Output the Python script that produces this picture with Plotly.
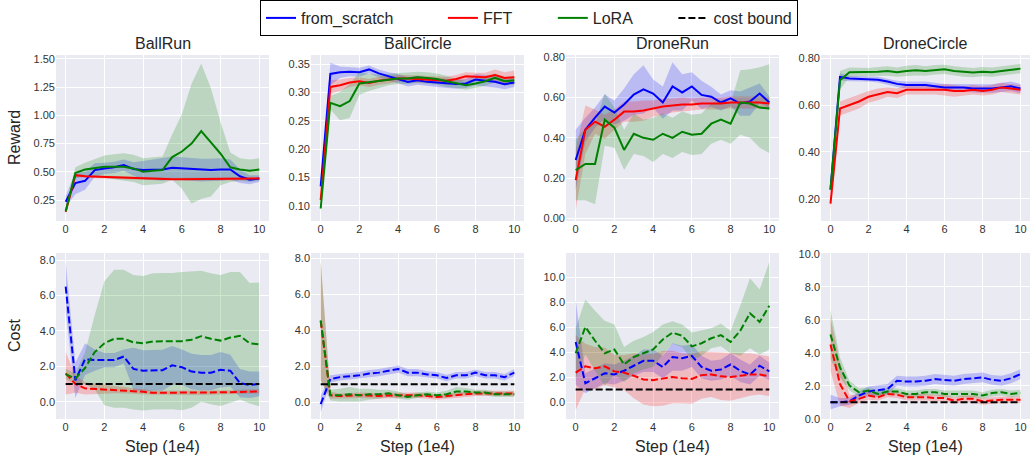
import plotly.graph_objects as go
from plotly.subplots import make_subplots

steps = [0, 0.5, 1, 1.5, 2, 2.5, 3, 3.5, 4, 4.5, 5, 5.5, 6, 6.5, 7, 7.5, 8, 8.5, 9, 9.5, 10]
tasks = ["BallRun", "BallCircle", "DroneRun", "DroneCircle"]
methods = ["from_scratch", "FFT", "LoRA"]
x_ticks = [0, 2, 4, 6, 8, 10]
cost_bound = 1.0
bound_x = [0, 10]

# ---- Reward (top row) ----
br_fs = [0.235, 0.40, 0.42, 0.515, 0.53, 0.54, 0.56, 0.525, 0.515, 0.52, 0.52, 0.535, 0.53, 0.52, 0.515, 0.515, 0.52, 0.52, 0.46, 0.43, 0.44]
br_fs_sd = [0.05, 0.1, 0.08, 0.06, 0.05, 0.05, 0.05, 0.06, 0.08, 0.09, 0.1, 0.1, 0.1, 0.1, 0.1, 0.1, 0.1, 0.09, 0.06, 0.04, 0.03]
br_fft = [0.146, 0.47, 0.46, 0.457, 0.45, 0.447, 0.445, 0.442, 0.44, 0.438, 0.436, 0.435, 0.435, 0.435, 0.435, 0.435, 0.435, 0.435, 0.435, 0.437, 0.44]
br_fft_sd = [0.015, 0.015, 0.012, 0.012, 0.012, 0.012, 0.012, 0.012, 0.012, 0.012, 0.012, 0.012, 0.012, 0.012, 0.012, 0.012, 0.012, 0.012, 0.012, 0.012, 0.012]
br_lora = [0.15, 0.49, 0.52, 0.535, 0.545, 0.545, 0.545, 0.53, 0.50, 0.51, 0.515, 0.63, 0.68, 0.75, 0.86, 0.76, 0.66, 0.54, 0.52, 0.51, 0.52]
br_lora_sd = [0.03, 0.05, 0.06, 0.08, 0.1, 0.11, 0.12, 0.12, 0.12, 0.12, 0.12, 0.2, 0.33, 0.53, 0.6, 0.48, 0.28, 0.13, 0.1, 0.1, 0.1]

bc_fs = [0.134, 0.333, 0.336, 0.337, 0.336, 0.341, 0.334, 0.329, 0.325, 0.319, 0.322, 0.319, 0.318, 0.316, 0.315, 0.316, 0.323, 0.321, 0.319, 0.315, 0.318]
bc_fs_sd = [0.005, 0.02, 0.01, 0.008, 0.008, 0.007, 0.007, 0.007, 0.008, 0.008, 0.008, 0.008, 0.008, 0.008, 0.008, 0.008, 0.01, 0.01, 0.01, 0.009, 0.008]
bc_fft = [0.11, 0.31, 0.313, 0.318, 0.32, 0.317, 0.321, 0.323, 0.325, 0.325, 0.324, 0.324, 0.322, 0.321, 0.324, 0.329, 0.328, 0.327, 0.331, 0.326, 0.327]
bc_fft_sd = [0.005, 0.012, 0.01, 0.008, 0.007, 0.007, 0.007, 0.007, 0.006, 0.006, 0.006, 0.006, 0.006, 0.007, 0.007, 0.007, 0.007, 0.008, 0.01, 0.01, 0.012]
bc_lora = [0.095, 0.282, 0.276, 0.285, 0.316, 0.318, 0.32, 0.323, 0.325, 0.325, 0.327, 0.326, 0.324, 0.32, 0.316, 0.313, 0.316, 0.32, 0.326, 0.32, 0.322]
bc_lora_sd = [0.005, 0.012, 0.025, 0.03, 0.02, 0.015, 0.012, 0.01, 0.01, 0.01, 0.01, 0.01, 0.01, 0.01, 0.008, 0.008, 0.008, 0.008, 0.008, 0.008, 0.008]

dr_fs = [0.29, 0.44, 0.50, 0.555, 0.525, 0.565, 0.615, 0.64, 0.62, 0.575, 0.655, 0.625, 0.655, 0.613, 0.604, 0.575, 0.596, 0.57, 0.58, 0.62, 0.575]
dr_fs_sd = [0.15, 0.06, 0.05, 0.06, 0.06, 0.08, 0.1, 0.12, 0.07, 0.08, 0.12, 0.09, 0.07, 0.07, 0.05, 0.04, 0.04, 0.06, 0.07, 0.05, 0.03]
dr_fft = [0.19, 0.44, 0.48, 0.455, 0.49, 0.53, 0.53, 0.535, 0.545, 0.555, 0.56, 0.565, 0.565, 0.57, 0.57, 0.57, 0.575, 0.575, 0.575, 0.575, 0.57]
dr_fft_sd = [0.15, 0.12, 0.06, 0.06, 0.05, 0.05, 0.05, 0.05, 0.04, 0.04, 0.035, 0.035, 0.03, 0.03, 0.03, 0.03, 0.03, 0.03, 0.03, 0.03, 0.03]
dr_lora = [0.24, 0.27, 0.27, 0.49, 0.45, 0.34, 0.42, 0.40, 0.39, 0.42, 0.40, 0.43, 0.415, 0.42, 0.47, 0.49, 0.47, 0.575, 0.57, 0.55, 0.545]
dr_lora_sd = [0.15, 0.18, 0.2, 0.13, 0.1, 0.1, 0.1, 0.09, 0.11, 0.1, 0.1, 0.1, 0.1, 0.1, 0.1, 0.1, 0.1, 0.16, 0.17, 0.2, 0.22]

dc_fs = [0.24, 0.72, 0.713, 0.712, 0.712, 0.708, 0.70, 0.69, 0.685, 0.685, 0.685, 0.68, 0.675, 0.675, 0.675, 0.67, 0.67, 0.67, 0.675, 0.68, 0.67]
dc_fs_sd = [0.02, 0.015, 0.012, 0.012, 0.012, 0.012, 0.012, 0.013, 0.015, 0.015, 0.015, 0.015, 0.015, 0.015, 0.015, 0.017, 0.018, 0.018, 0.02, 0.02, 0.02]
dc_fft = [0.18, 0.585, 0.60, 0.615, 0.635, 0.645, 0.655, 0.65, 0.665, 0.665, 0.665, 0.665, 0.665, 0.66, 0.66, 0.665, 0.66, 0.665, 0.675, 0.67, 0.665]
dc_fft_sd = [0.03, 0.03, 0.03, 0.03, 0.025, 0.025, 0.02, 0.02, 0.02, 0.02, 0.02, 0.02, 0.025, 0.025, 0.02, 0.02, 0.02, 0.02, 0.02, 0.02, 0.02]
dc_lora = [0.24, 0.705, 0.74, 0.74, 0.74, 0.742, 0.745, 0.74, 0.745, 0.748, 0.745, 0.75, 0.752, 0.745, 0.74, 0.738, 0.742, 0.74, 0.745, 0.75, 0.755]
dc_lora_sd = [0.02, 0.04, 0.02, 0.018, 0.018, 0.02, 0.02, 0.02, 0.022, 0.022, 0.02, 0.02, 0.02, 0.02, 0.02, 0.02, 0.02, 0.02, 0.02, 0.02, 0.02]

# ---- Cost (bottom row) ----
brc_fs = [6.5, 1.2, 2.4, 2.35, 2.35, 2.35, 2.55, 1.85, 1.75, 1.78, 1.78, 2.05, 1.95, 1.7, 1.64, 1.64, 1.8, 1.75, 1.05, 0.95, 1.0]
brc_fs_sd = [1.4, 1.0, 0.9, 0.6, 0.4, 0.4, 0.4, 1.2, 1.15, 1.15, 1.15, 1.1, 1.0, 1.0, 1.0, 1.0, 1.0, 0.9, 0.8, 0.75, 0.7]
brc_fft = [1.6, 1.0, 0.75, 0.72, 0.7, 0.68, 0.66, 0.6, 0.56, 0.5, 0.5, 0.5, 0.5, 0.5, 0.5, 0.5, 0.52, 0.53, 0.55, 0.56, 0.58]
brc_fft_sd = [1.2, 0.5, 0.35, 0.3, 0.25, 0.2, 0.18, 0.15, 0.15, 0.12, 0.12, 0.12, 0.12, 0.12, 0.12, 0.12, 0.12, 0.12, 0.12, 0.12, 0.12]
brc_lora = [1.56, 1.3, 1.9, 2.8, 3.3, 3.55, 3.55, 3.35, 3.3, 3.4, 3.42, 3.42, 3.42, 3.5, 3.7, 3.55, 3.45, 3.62, 3.72, 3.3, 3.24]
brc_lora_sd = [0.3, 0.3, 0.9, 2.1, 3.5, 3.9, 3.9, 3.8, 3.8, 3.85, 3.85, 3.85, 3.9, 3.85, 3.7, 3.7, 3.7, 3.7, 3.6, 3.4, 3.5]

bcc_fs = [-0.1, 1.3, 1.4, 1.45, 1.5, 1.6, 1.65, 1.75, 1.85, 1.65, 1.65, 1.55, 1.5, 1.35, 1.5, 1.5, 1.65, 1.5, 1.5, 1.4, 1.65]
bcc_fs_sd = [0.45, 0.2, 0.18, 0.18, 0.18, 0.2, 0.2, 0.2, 0.2, 0.2, 0.2, 0.18, 0.18, 0.18, 0.18, 0.18, 0.18, 0.18, 0.18, 0.18, 0.2]
bcc_fft = [4.5, 0.4, 0.35, 0.38, 0.4, 0.38, 0.35, 0.38, 0.4, 0.4, 0.4, 0.35, 0.3, 0.35, 0.4, 0.45, 0.5, 0.5, 0.5, 0.5, 0.5]
bcc_fft_sd = [3.3, 0.2, 0.15, 0.15, 0.15, 0.15, 0.15, 0.15, 0.15, 0.15, 0.15, 0.15, 0.15, 0.15, 0.15, 0.15, 0.15, 0.15, 0.15, 0.15, 0.15]
bcc_lora = [4.55, 0.4, 0.4, 0.45, 0.4, 0.45, 0.45, 0.5, 0.4, 0.3, 0.4, 0.45, 0.4, 0.45, 0.6, 0.6, 0.55, 0.55, 0.45, 0.45, 0.45]
bcc_lora_sd = [3.3, 0.3, 0.35, 0.4, 0.35, 0.3, 0.25, 0.2, 0.2, 0.15, 0.15, 0.15, 0.15, 0.2, 0.25, 0.2, 0.15, 0.15, 0.15, 0.15, 0.15]

drc_fs = [4.8, 1.5, 1.9, 2.3, 2.2, 2.5, 2.9, 3.3, 3.3, 2.8, 3.6, 3.5, 3.7, 2.8, 2.5, 2.6, 3.0, 2.5, 2.2, 2.9, 2.45]
drc_fs_sd = [3.4, 0.8, 0.8, 0.8, 0.8, 0.8, 0.8, 0.9, 0.9, 0.9, 1.1, 1.0, 0.9, 0.9, 0.8, 0.8, 0.9, 0.9, 0.8, 0.8, 0.7]
drc_fft = [2.35, 2.85, 2.7, 2.85, 2.45, 2.35, 2.1, 1.8, 1.75, 1.9, 2.0, 1.9, 1.85, 2.15, 2.2, 2.05, 2.0, 2.1, 2.2, 2.2, 2.05]
drc_fft_sd = [3.0, 1.8, 1.7, 1.5, 1.3, 1.4, 1.8, 2.0, 2.1, 2.2, 2.1, 2.0, 2.0, 1.9, 1.8, 1.9, 1.9, 1.8, 1.7, 1.6, 1.6]
drc_lora = [3.9, 6.0, 4.9, 3.9, 4.2, 3.0, 3.6, 3.9, 4.2, 5.0, 5.55, 5.3, 4.45, 4.7, 5.1, 5.35, 4.8, 5.7, 7.1, 6.4, 7.7]
drc_lora_sd = [2.0, 2.2, 2.4, 2.6, 2.0, 1.4, 1.3, 1.3, 1.4, 1.2, 0.9, 0.9, 1.1, 1.0, 0.8, 0.9, 0.9, 2.0, 2.8, 2.6, 3.5]

dcc_fs = [1.0, 1.0, 1.05, 1.4, 1.65, 1.72, 1.8, 2.3, 2.25, 2.25, 2.3, 2.4, 2.35, 2.3, 2.4, 2.45, 2.5, 2.35, 2.3, 2.45, 2.7]
dcc_fs_sd = [0.45, 0.25, 0.2, 0.25, 0.3, 0.3, 0.3, 0.3, 0.3, 0.3, 0.3, 0.3, 0.3, 0.3, 0.3, 0.3, 0.3, 0.3, 0.3, 0.3, 0.3]
dcc_fft = [4.5, 2.1, 1.05, 1.2, 1.4, 1.3, 1.5, 1.45, 1.3, 1.3, 1.3, 1.25, 1.25, 1.1, 1.2, 1.2, 1.05, 1.1, 1.15, 1.15, 1.15]
dcc_fft_sd = [1.6, 1.3, 0.4, 0.25, 0.25, 0.2, 0.2, 0.2, 0.2, 0.2, 0.2, 0.2, 0.2, 0.2, 0.2, 0.2, 0.2, 0.2, 0.2, 0.2, 0.2]
dcc_lora = [5.1, 3.1, 2.0, 1.6, 1.7, 1.5, 1.65, 1.65, 1.5, 1.5, 1.6, 1.6, 1.5, 1.5, 1.5, 1.5, 1.4, 1.55, 1.6, 1.5, 1.55]
dcc_lora_sd = [1.5, 0.6, 0.3, 0.25, 0.2, 0.2, 0.2, 0.2, 0.2, 0.2, 0.2, 0.2, 0.2, 0.2, 0.2, 0.2, 0.2, 0.2, 0.2, 0.2, 0.2]

reward_data = [
    [(br_fs, br_fs_sd), (br_fft, br_fft_sd), (br_lora, br_lora_sd)],
    [(bc_fs, bc_fs_sd), (bc_fft, bc_fft_sd), (bc_lora, bc_lora_sd)],
    [(dr_fs, dr_fs_sd), (dr_fft, dr_fft_sd), (dr_lora, dr_lora_sd)],
    [(dc_fs, dc_fs_sd), (dc_fft, dc_fft_sd), (dc_lora, dc_lora_sd)],
]
cost_data = [
    [(brc_fs, brc_fs_sd), (brc_fft, brc_fft_sd), (brc_lora, brc_lora_sd)],
    [(bcc_fs, bcc_fs_sd), (bcc_fft, bcc_fft_sd), (bcc_lora, bcc_lora_sd)],
    [(drc_fs, drc_fs_sd), (drc_fft, drc_fft_sd), (drc_lora, drc_lora_sd)],
    [(dcc_fs, dcc_fs_sd), (dcc_fft, dcc_fft_sd), (dcc_lora, dcc_lora_sd)],
]

reward_ranges = [[0.064, 1.535], [0.0729, 0.3665], [-0.013, 0.811], [0.106, 0.813]]
reward_ticks = [[0.25, 0.5, 0.75, 1.0, 1.25, 1.5], [0.1, 0.15, 0.2, 0.25, 0.3, 0.35],
                [0.0, 0.2, 0.4, 0.6, 0.8], [0.2, 0.4, 0.6, 0.8]]
cost_ranges = [[-0.98, 8.4], [-0.92, 8.28], [-1.36, 11.92], [-0.02, 10.04]]
cost_ticks = [[0, 2, 4, 6, 8], [0, 2, 4, 6, 8], [0, 2, 4, 6, 8, 10], [0, 2, 4, 6, 8, 10]]

line_colors = ["#0000ff", "#ff0000", "#008000"]
fill_colors = ["rgba(0,0,255,0.2)", "rgba(255,0,0,0.2)", "rgba(0,128,0,0.2)"]

W, H = 1030, 461
FONT = "Liberation Sans, Arial, sans-serif"
TXT = "#262626"
NB = "\u00a0"
legend_pad = [NB * 10, NB * 8, NB * 8]

fig = make_subplots(rows=2, cols=4)

def add_panel(row, col, series, dashed):
    for k, (mean, sd) in enumerate(series):
        upper = [m + s for m, s in zip(mean, sd)]
        lower = [m - s for m, s in zip(mean, sd)]
        fig.add_trace(go.Scatter(x=steps + steps[::-1], y=upper + lower[::-1], fill="toself",
                                 fillcolor=fill_colors[k], line=dict(width=0), mode="lines",
                                 showlegend=False, hoverinfo="skip"), row=row, col=col)
    for k, (mean, sd) in enumerate(series):
        fig.add_trace(go.Scatter(x=steps, y=mean, mode="lines", name=methods[k] + legend_pad[k],
                                 line=dict(color=line_colors[k], width=2,
                                           dash="7px,3px" if dashed else "solid"),
                                 showlegend=(row == 1 and col == 1), legendrank=k + 1),
                      row=row, col=col)

for c in range(4):
    add_panel(1, c + 1, reward_data[c], False)
    add_panel(2, c + 1, cost_data[c], True)
    fig.add_trace(go.Scatter(x=bound_x, y=[cost_bound, cost_bound], mode="lines", name="cost bound",
                             line=dict(color="black", width=2, dash="7px,3px"),
                             showlegend=(c == 0), legendrank=4), row=2, col=c + 1)

x_domains = [(56 / W, 269 / W), (311 / W, 524 / W), (566 / W, 779 / W), (821 / W, 1.0)]
top_dom = (1 - 221 / H, 1 - 55 / H)
bot_dom = (1 - 419 / H, 1 - 253 / H)

axis_common = dict(showgrid=True, gridcolor="white", gridwidth=1.3, zeroline=False, showline=False,
                   ticks="", automargin=False,
                   tickfont=dict(family=FONT, size=11, color="#333333"))

for c in range(4):
    for r in range(2):
        fig.update_xaxes(domain=x_domains[c], range=[-0.5, 10.5], tickvals=x_ticks,
                         ticktext=[str(t) for t in x_ticks], row=r + 1, col=c + 1, **axis_common)
    fig.update_yaxes(domain=top_dom, range=reward_ranges[c], tickvals=reward_ticks[c],
                     tickformat=".2f", row=1, col=c + 1, **axis_common)
    fig.update_yaxes(domain=bot_dom, range=cost_ranges[c], tickvals=cost_ticks[c],
                     tickformat=".1f", row=2, col=c + 1, **axis_common)

annotations = []
ann_font = dict(family=FONT, size=16, color=TXT)
for c in range(4):
    cx = (x_domains[c][0] + min(x_domains[c][1], 1031 / W)) / 2
    annotations.append(dict(text=tasks[c], x=cx, y=1 - 43 / H, xref="paper", yref="paper",
                            xanchor="center", yanchor="middle", showarrow=False, font=ann_font))
    annotations.append(dict(text="Step (1e4)", x=cx, y=1 - 446 / H, xref="paper", yref="paper",
                            xanchor="center", yanchor="middle", showarrow=False, font=ann_font))
annotations.append(dict(text="Reward", x=14 / W, y=1 - 138 / H, xref="paper", yref="paper",
                        xanchor="center", yanchor="middle", showarrow=False, textangle=-90, font=ann_font))
annotations.append(dict(text="Cost", x=14 / W, y=1 - 336 / H, xref="paper", yref="paper",
                        xanchor="center", yanchor="middle", showarrow=False, textangle=-90, font=ann_font))

fig.update_layout(
    width=W, height=H, margin=dict(l=0, r=0, t=0, b=0, autoexpand=False),
    paper_bgcolor="white", plot_bgcolor="#eaeaf2",
    annotations=annotations,
    legend=dict(orientation="h", xref="container", yref="container", x=529 / W, xanchor="center",
                y=1.0, yanchor="top",
                bordercolor="black", borderwidth=1, bgcolor="white",
                font=dict(family=FONT, size=16, color=TXT), traceorder="normal"),
    font=dict(family=FONT),
)

fig.write_html("out.html", config={"displayModeBar": False},
               post_script="document.body.style.margin='0px';")
